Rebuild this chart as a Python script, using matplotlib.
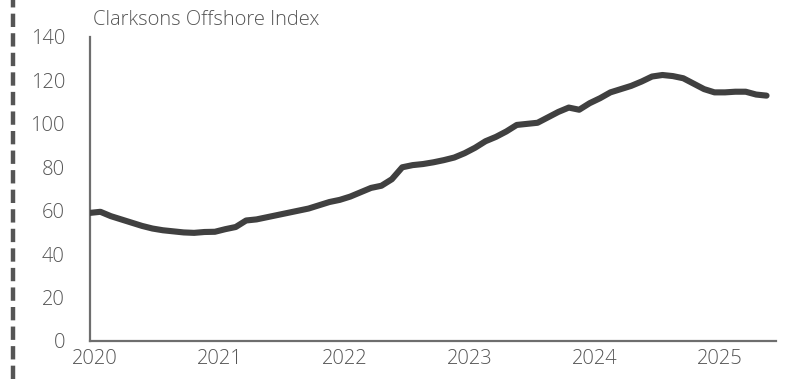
import numpy as np
import matplotlib
matplotlib.use("Agg")
import matplotlib.pyplot as plt
from matplotlib.lines import Line2D

# Clarksons Offshore Index, monthly from Jan 2020
index_values = [
    59.0, 59.5, 57.5, 56.0, 54.5, 53.0, 51.8, 51.0, 50.5, 50.0, 49.8, 50.2,
    50.3, 51.5, 52.5, 55.5, 56.0, 57.0, 58.0, 59.0, 60.0, 61.0, 62.5, 64.0,
    65.0, 66.5, 68.5, 70.5, 71.5, 74.5, 80.0, 81.0, 81.5, 82.3, 83.3, 84.5,
    86.5, 89.0, 92.0, 94.0, 96.5, 99.5, 100.0, 100.5, 103.0, 105.5, 107.5, 106.5,
    109.5, 111.8, 114.5, 116.0, 117.5, 119.5, 121.8, 122.5, 122.0, 121.0, 118.5, 116.0,
    114.5, 114.5, 114.8, 114.8, 113.5, 113.0,
]
start_year = 2020
year_labels = ["2020", "2021", "2022", "2023", "2024", "2025"]
y_ticks = [0, 20, 40, 60, 80, 100, 120, 140]
title = "Clarksons Offshore Index"

months = np.arange(len(index_values))
x = start_year + months / 12.0

plt.rcParams['font.family'] = ['Open Sans', 'DejaVu Sans']
txt_color = "#555555"
fsize = 14.5

fig = plt.figure(figsize=(7.88, 3.79), dpi=100)
ax = fig.add_axes([90 / 788, 38 / 379, 686 / 788, 304 / 379])

ax.plot(x, index_values, color="#404040", lw=4.4, solid_capstyle="round",
        solid_joinstyle="round", zorder=3)

ax.set_xlim(start_year, start_year + 686 / 124.9)
ax.set_ylim(0, 140)
ax.set_yticks(y_ticks)
ax.set_yticklabels([str(v) for v in y_ticks])
ax.set_xticks([start_year + i + 0.04 for i in range(len(year_labels))])
ax.set_xticklabels(year_labels)
ax.tick_params(axis="both", length=0, labelsize=fsize, colors=txt_color)
ax.tick_params(axis="y", pad=18)
ax.tick_params(axis="x", pad=6)
for lbl in ax.get_xticklabels() + ax.get_yticklabels():
    lbl.set_fontweight("light")

for side in ["top", "right"]:
    ax.spines[side].set_visible(False)
for side in ["left", "bottom"]:
    ax.spines[side].set_color("#6e6e6e")
    ax.spines[side].set_linewidth(1.6)

fig.text(93 / 788, 1 - 20 / 379, title, fontsize=fsize, color=txt_color,
         fontweight="light", ha="left", va="center")

# dashed rule down the left edge
fig.add_artist(Line2D([13 / 788, 13 / 788], [0, 1], transform=fig.transFigure,
                      color="#555555", lw=3.2, dashes=(3.0, 1.4)))

fig.savefig("out.png", dpi=100)
